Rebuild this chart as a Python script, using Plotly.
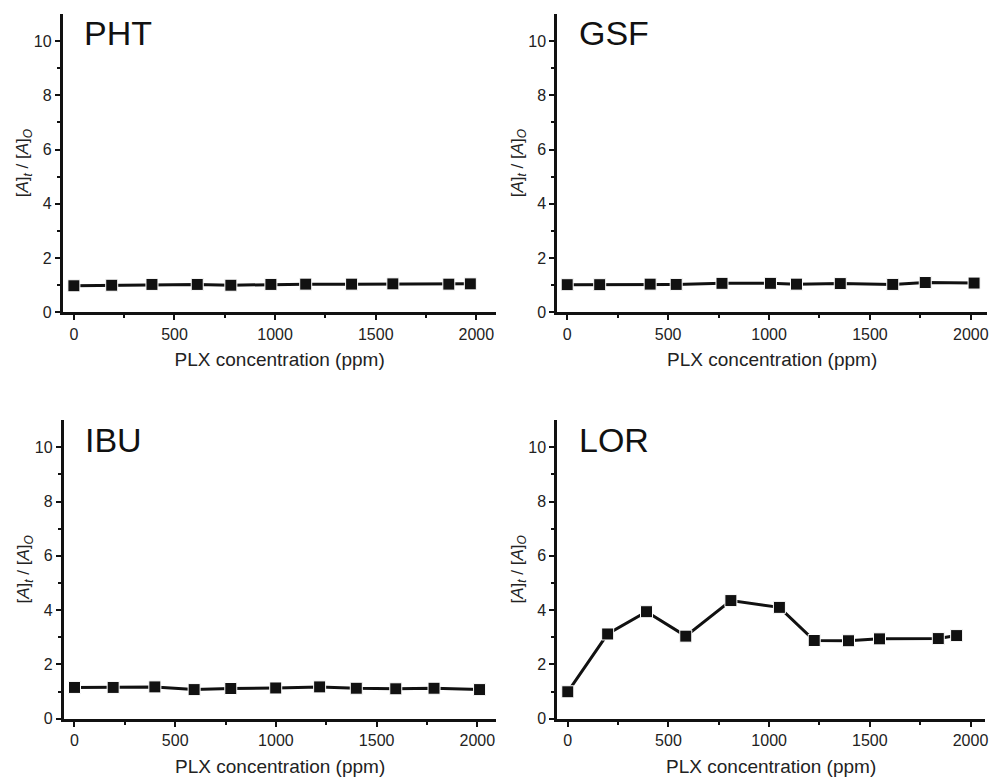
import plotly.graph_objects as go

# ---- data ----
pht_x = [0, 188, 388, 613, 780, 979, 1152, 1380, 1585, 1863, 1970]
pht_y = [0.98, 1.00, 1.03, 1.03, 1.00, 1.03, 1.04, 1.04, 1.05, 1.04, 1.05]

gsf_x = [0, 161, 411, 540, 767, 1007, 1136, 1353, 1613, 1774, 2016]
gsf_y = [1.02, 1.02, 1.04, 1.03, 1.07, 1.07, 1.04, 1.06, 1.03, 1.10, 1.08]

ibu_x = [0, 192, 399, 594, 776, 999, 1217, 1399, 1595, 1785, 2011]
ibu_y = [1.15, 1.15, 1.17, 1.07, 1.11, 1.13, 1.17, 1.12, 1.10, 1.12, 1.07]

lor_x = [0, 198, 391, 586, 810, 1051, 1224, 1394, 1548, 1840, 1931]
lor_y = [0.99, 3.12, 3.94, 3.04, 4.35, 4.10, 2.88, 2.87, 2.94, 2.95, 3.06]

panel_names = ["PHT", "GSF", "IBU", "LOR"]
x_title = "PLX concentration (ppm)"
y_title = "[<i>A</i>]<sub><i>t</i></sub> / [<i>A</i>]<sub><i>O</i></sub>"

W, H = 992, 783
FONT = "Liberation Sans, Arial, sans-serif"
INK = "#111111"

series = [(pht_x, pht_y), (gsf_x, gsf_y), (ibu_x, ibu_y), (lor_x, lor_y)]
# pixel geometry: (left, right, top, bottom) and x range
geo = [
    (63, 498, 14, 316, [-55, 2100]),
    (559, 990, 14, 316, [-49, 2080]),
    (64, 498, 425, 727, [-53, 2095]),
    (559, 988, 425, 727, [-52, 2072]),
]

fig = go.Figure()
layout = dict(
    width=W, height=H,
    margin=dict(l=0, r=0, t=0, b=0),
    paper_bgcolor="white", plot_bgcolor="white",
    showlegend=False,
    font=dict(family=FONT, color=INK, size=16),
    annotations=[],
)

for i, ((xs, ys), (l, r, t, b, xr)) in enumerate(zip(series, geo)):
    n = "" if i == 0 else str(i + 1)
    fig.add_trace(go.Scatter(
        x=xs, y=ys, mode="lines+markers",
        line=dict(color=INK, width=3),
        marker=dict(symbol="square", size=12, color=INK,
                    line=dict(color="white", width=1)),
        xaxis="x" + n, yaxis="y" + n, cliponaxis=False,
    ))
    layout["xaxis" + n] = dict(
        domain=[l / W, r / W], anchor="y" + n, range=xr,
        showgrid=False, zeroline=False, showline=True, linewidth=3, linecolor=INK,
        ticks="outside", ticklen=5, tickwidth=2, tickcolor=INK,
        tickvals=[0, 500, 1000, 1500, 2000],
        minor=dict(tickvals=[250, 750, 1250, 1750], ticks="outside", ticklen=3, tickwidth=2, tickcolor=INK),
        tickfont=dict(size=16, family=FONT, color="#222"),
        title=dict(text=x_title, font=dict(size=19, family=FONT, color="#222"), standoff=12),
    )
    layout["yaxis" + n] = dict(
        domain=[1 - b / H, 1 - t / H], anchor="x" + n, range=[0, 11],
        showgrid=False, zeroline=False, showline=True, linewidth=3, linecolor=INK,
        ticks="outside", ticklen=5, tickwidth=2, tickcolor=INK,
        tickvals=[0, 2, 4, 6, 8, 10],
        minor=dict(tickvals=[1, 3, 5, 7, 9], ticks="outside", ticklen=3, tickwidth=2, tickcolor=INK),
        tickfont=dict(size=16, family=FONT, color="#222"),
        title=dict(text=y_title, font=dict(size=17, family=FONT, color="#222"), standoff=1),
    )
    layout["annotations"].append(dict(
        text=panel_names[i], xref="x" + n + " domain", yref="y" + n + " domain",
        x=0.045, y=1.005, xanchor="left", yanchor="top", showarrow=False,
        font=dict(size=34, family=FONT, color=INK),
    ))

fig.update_layout(**layout)
fig.write_html("out.html")
